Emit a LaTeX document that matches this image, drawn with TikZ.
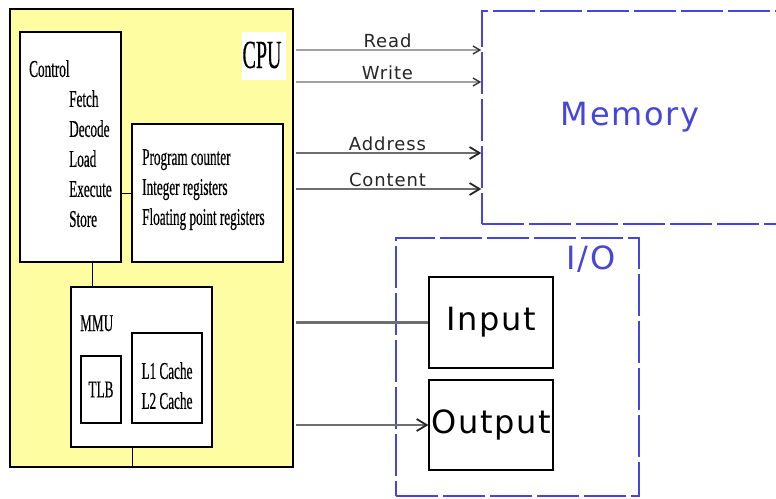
\documentclass[tikz,border=0pt]{standalone}
\usepackage{fontspec}
\newfontfamily\narrowserif[FakeStretch=0.55,FakeBold=0.4]{Liberation Serif}
\newfontfamily\cpuserif[FakeStretch=0.5,FakeBold=0.3]{Liberation Serif}
\newfontfamily\labelsans[LetterSpace=5]{DejaVu Sans}
\usetikzlibrary{arrows.meta,positioning,calc}
\definecolor{cpuYellow}{HTML}{FFFDA2}
\definecolor{ioBlue}{HTML}{4646DC}
\definecolor{lightBus}{HTML}{A0A0A0}
\definecolor{darkBus}{HTML}{6E6E6E}

\begin{document}
\begin{tikzpicture}[x=1pt,y=-1pt,
 unit/.style={draw,line width=1.2pt,fill=white,inner sep=0pt},
 zone/.style={draw=ioBlue,line width=1.4pt,dash pattern=on 42pt off 5pt,inner sep=0pt},
 serif/.style={font=\narrowserif\fontsize{24}{30}\selectfont,inner sep=0pt},
 bigsans/.style={font=\labelsans\fontsize{32}{36}\selectfont},
 sigtext/.style={font=\labelsans\fontsize{18}{20}\selectfont,text=black!85,inner sep=1pt},
 thinbus/.style={lightBus,line width=1.6pt,shorten <=2pt,
   -{Straight Barb[color=black!80,length=7pt,width=8pt,line width=1.4pt]}},
 widebus/.style={darkBus,line width=2.6pt,shorten <=2pt,
   -{Straight Barb[color=black!85,length=10pt,width=12pt,line width=1.8pt]}}]
 \useasboundingbox (0,0) rectangle (776,498);

 % processor and its parts
 \node[draw,line width=1.4pt,fill=cpuYellow,minimum width=283pt,minimum height=458pt] (cpu) at (151.5,238) {};
 \node[fill=white,minimum width=44pt,minimum height=48pt] (cpuback) at (264,56) {};
 \node[font=\cpuserif\fontsize{40}{42}\selectfont,inner sep=0pt,anchor=base] (cputext) at (262,68) {CPU};
 \node[unit,minimum width=101pt,minimum height=230pt] (control) at (70.5,147) {};
 \node[unit,minimum width=151pt,minimum height=138pt] (regs) at (207.5,193) {};
 \node[unit,minimum width=141pt,minimum height=160pt] (mmu) at (141.5,367) {};
 \node[unit,minimum width=40pt,minimum height=67pt] (tlb) at (101,389.5) {};
 \node[unit,minimum width=70pt,minimum height=90pt] (cache) at (167,378) {};

 \node[serif,align=left,anchor=north west] (controltext) at (29,60)
  {Control\\\hspace{40pt}Fetch\\\hspace{40pt}Decode\\\hspace{40pt}Load\\\hspace{40pt}Execute\\\hspace{40pt}Store};
 \node[serif,align=left,anchor=north west] (regstext) at (142,149)
  {Program counter\\Integer registers\\Floating point registers};
 \node[serif,anchor=base west] (mmutext) at (80,331) {MMU};
 \node[serif] (tlbtext) at (tlb) {TLB};
 \node[serif,align=center,anchor=north] (cachetext) at (167,362) {L1 Cache\\L2 Cache};

 \draw[line width=1pt] (regs.west) -- (regs.west -| control.east);
 \draw[line width=1pt] ([xshift=21.5pt]control.south) -- ([xshift=21.5pt]control.south |- mmu.north);
 \draw[line width=1pt] ([xshift=-9.5pt]mmu.south) -- ([xshift=-9.5pt]mmu.south |- cpu.south);

 % memory and I/O
 \node[zone,bigsans,text=ioBlue,minimum width=296pt,minimum height=213pt] (memory) at (630,117.5) {Memory};
 \node[zone,minimum width=243pt,minimum height=258pt] (io) at (517.5,367) {};
 \node[font=\labelsans\fontsize{32}{34}\selectfont,text=ioBlue,inner sep=0pt] (iotext) at (591,259) {I/O};
 \node[unit,bigsans,minimum width=124pt,minimum height=91pt] (input) at (491,322.5) {Input};
 \node[unit,bigsans,minimum width=124pt,minimum height=90pt] (output) at (491,425) {Output};

 % buses
 \draw[thinbus] (cpu.east |- 0,50) -- ([yshift=67.5pt]memory.west) node[sigtext,midway,above] {Read};
 \draw[thinbus] (cpu.east |- 0,82) -- ([yshift=35.5pt]memory.west) node[sigtext,midway,above] {Write};
 \draw[widebus] (cpu.east |- 0,153) -- ([yshift=-35.5pt]memory.west) node[sigtext,midway,above] {Address};
 \draw[widebus] (cpu.east |- 0,189) -- ([yshift=-71.5pt]memory.west) node[sigtext,midway,above] {Content};
 \draw[darkBus,line width=2.6pt,shorten <=2pt] (input.west -| cpu.east) -- (input.west);
 \draw[widebus] (output.west -| cpu.east) -- (output.west);
\end{tikzpicture}
\end{document}
